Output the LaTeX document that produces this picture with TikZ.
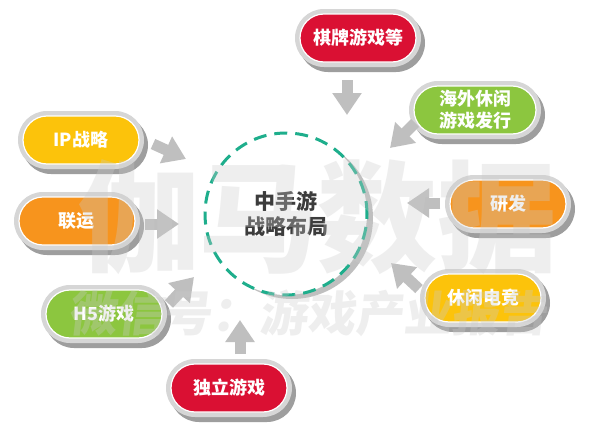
\documentclass[tikz,border=0pt]{standalone}
\usepackage{fontspec}
\newfontfamily\cjk{Noto Sans CJK SC}
\newfontfamily\cjkslant{Noto Sans CJK SC}[FakeSlant=0.12]
\usetikzlibrary{shapes.misc,arrows.meta}
\definecolor{pred}{HTML}{DA1033}
\definecolor{pgreen}{HTML}{8CC63F}
\definecolor{pyellow}{HTML}{FCC30B}
\definecolor{porange}{HTML}{F7941D}
\definecolor{tealdash}{HTML}{1EAE8C}
\definecolor{arrowgray}{HTML}{BFBFBF}
\definecolor{wmgray}{HTML}{CBCBCB}
\definecolor{ctext}{HTML}{3C3C3C}
\newcommand\mypill[5][116pt]{%
  \node[pillshadow, minimum width=#1+10pt, xshift=4pt, yshift=-5pt] (#2s) at (#3) {};
  \node[pillring, minimum width=#1+10pt] (#2r) at (#3) {};
  \node[pillfill, minimum width=#1, fill=#4] (#2) at (#3) {#5};
}
\begin{document}
\begin{tikzpicture}[x=1pt,y=-1pt,
  pillshadow/.style={rounded rectangle, minimum height=58pt, fill=black!38, inner sep=0pt},
  pillring/.style={rounded rectangle, minimum height=58pt, fill=black!16, inner sep=0pt},
  pillfill/.style={rounded rectangle, minimum height=48pt, inner sep=0pt, draw=white, line width=1.2pt, text=white, font=\cjk\bfseries\fontsize{18}{22}\selectfont, align=center},
  blockarrow/.style={draw=arrowgray, line width=11pt, -{Triangle[length=22pt,width=28pt]}},
  wmark/.style={text=wmgray, text opacity=0.32, inner sep=0pt}
]
\fill[white] (0,0) rectangle (590,439);
\useasboundingbox (0,0) rectangle (590,439);

% centre circle
\coordinate (c) at (286,214);
\node[circle, minimum size=162pt, inner sep=0pt, fill=black!25, xshift=6pt, yshift=-4pt] (cs) at (c) {};
\node[circle, minimum size=162pt, inner sep=0pt, fill=white, draw=tealdash, line width=3pt, dash pattern=on 13pt off 8pt,
      text=ctext, font=\cjk\bfseries\fontsize{21}{25}\selectfont, align=center] (center) at (c) {中手游\\战略布局};

% pills
\mypill{qp}{358,38}{pred}{棋牌游戏等}
\mypill[122pt]{hw}{475,110}{pgreen}{海外休闲\\游戏发行}
\mypill{ip}{81,140}{pyellow}{IP战略}
\mypill{ly}{77,221}{porange}{联运}
\mypill{yf}{508,204}{porange}{研发}
\mypill{h5}{104,314}{pgreen}{H5游戏}
\mypill{xx}{483,298}{pyellow}{休闲电竞}
\mypill{dl}{229,388}{pred}{独立游戏}

% arrows
\coordinate (a1s) at (347,80);  \coordinate (a1e) at (347,115);
\coordinate (a2s) at (415,123); \coordinate (a2e) at (390,148);
\coordinate (a3s) at (153,144); \coordinate (a3e) at (186,159);
\coordinate (a4s) at (145,224); \coordinate (a4e) at (179,224);
\coordinate (a5s) at (440,203); \coordinate (a5e) at (407,203);
\coordinate (a6s) at (419,289); \coordinate (a6e) at (391,263);
\coordinate (a7s) at (169,304); \coordinate (a7e) at (194,277);
\coordinate (a8s) at (240,354); \coordinate (a8e) at (240,320);
\foreach \i in {1,...,8} {\draw[blockarrow] (a\i s) -- (a\i e);}

% watermark
\node[wmark, font=\cjk\bfseries\fontsize{120}{120}\selectfont] (wm1) at (318,217) {伽马数据};
\node[wmark, font=\cjkslant\bfseries\fontsize{48}{48}\selectfont] (wm2) at (308,313) {微信号：游戏产业报告};
\end{tikzpicture}
\end{document}
